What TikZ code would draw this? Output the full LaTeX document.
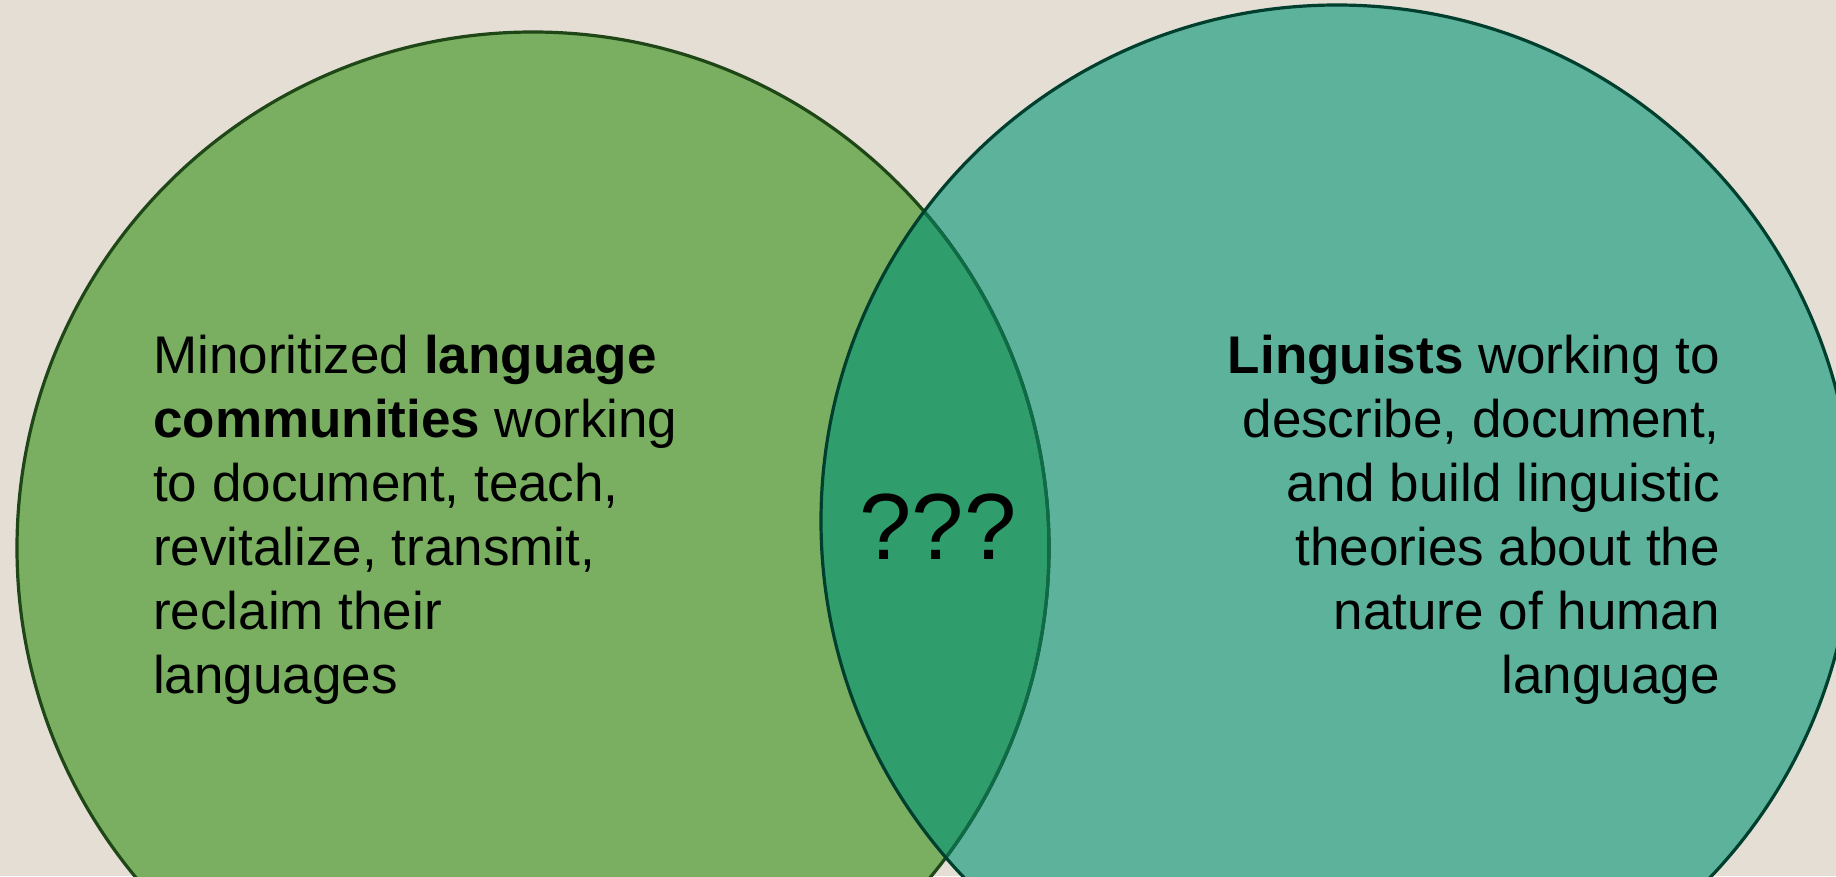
\documentclass[tikz,border=0pt]{standalone}
\usepackage{fontspec}
\setmainfont{Liberation Sans}
\begin{document}
\begin{tikzpicture}[x=1pt,y=-1pt,
    lbl/.style={inner sep=0pt, font=\fontsize{53}{64}\selectfont, text=black},
    ring/.style={line width=3.2pt}]
  \definecolor{bgbeige}{HTML}{E4DED4}
  \definecolor{leftfill}{HTML}{7AAF61}
  \definecolor{rightfill}{HTML}{5CB29B}
  \definecolor{lensfill}{HTML}{2F9E6C}
  \definecolor{leftline}{HTML}{1E4617}
  \definecolor{rightline}{HTML}{003F2E}
  \definecolor{lensline}{HTML}{0E6B48}
  \useasboundingbox (0,0) rectangle (1836,876);
  \fill[bgbeige] (0,0) rectangle (1836,876);
  \coordinate (cl) at (533,548);
  \coordinate (cr) at (1337,521);
  \def\rad{516pt}
  % the two sets
  \fill[leftfill] (cl) circle[radius=\rad];
  \fill[rightfill] (cr) circle[radius=\rad];
  % the overlap
  \begin{scope}
    \clip (cl) circle[radius=\rad];
    \fill[lensfill] (cr) circle[radius=\rad];
  \end{scope}
  % outlines
  \draw[ring, leftline] (cl) circle[radius=\rad];
  \begin{scope}
    \clip (cr) circle[radius=\rad];
    \draw[ring, lensline] (cl) circle[radius=\rad];
  \end{scope}
  \draw[ring, rightline] (cr) circle[radius=\rad];
  % labels
  \node[lbl, align=left, anchor=north west] (community) at (153,335)
    {Minoritized \textbf{language}\\\textbf{communities} working\\to document, teach,\\revitalize, transmit,\\reclaim their\\languages};
  \node[lbl, align=right, anchor=north east] (linguists) at (1720,335)
    {\textbf{Linguists} working to\\describe, document,\\and build linguistic\\theories about the\\nature of human\\language};
  \node[inner sep=0pt, font=\fontsize{94}{110}\selectfont, anchor=base] (overlap) at (938,559) {???};
\end{tikzpicture}
\end{document}
